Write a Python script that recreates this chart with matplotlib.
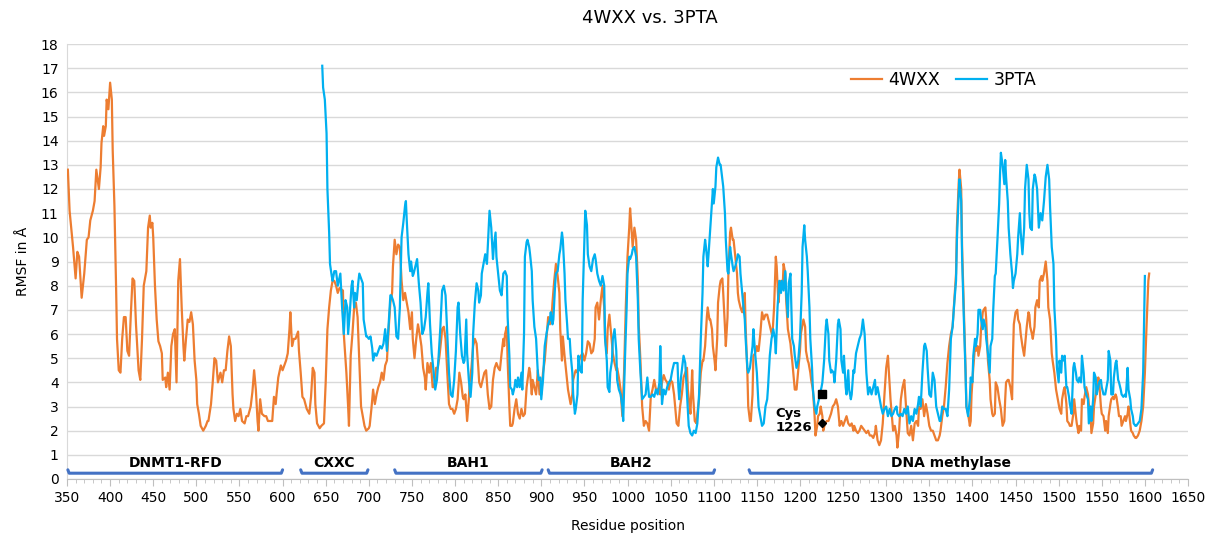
import matplotlib
matplotlib.use("Agg")
import matplotlib.pyplot as plt

plt.rcParams['font.family'] = ['DejaVu Sans']

# ---------------- data ----------------
res_4wxx = [351,353,357,360,362,364,367,370,373,375,377,380,382,384,387,389,390,392,393,395,396,398,400,402,403,405,407,408,410,412,414,416,418,420,422,424,426,428,430,433,435,437,439,442,444,446,447,449,450,452,454,456,458,460,461,464,465,467,469,471,473,475,477,479,481,483,485,486,488,490,492,494,496,498,500,501,503,505,508,511,513,
514,517,519,521,523,525,528,530,532,534,536,538,540,542,543,545,547,549,551,553,556,558,560,563,565,567,569,571,572,574,576,579,581,583,585,588,590,592,593,595,598,600,602,604,606,608,609,611,613,615,618,619,621,623,625,628,631,633,635,637,638,640,643,645,648,650,652,654,656,658,660,662,664,666,
670,671,674,676,677,679,681,683,685,687,689,691,693,695,697,700,701,703,705,707,709,711,713,715,717,719,721,723,725,727,728,730,732,734,736,738,740,742,744,746,748,750,751,753,755,757,759,761,763,765,766,768,770,772,774,776,778,780,782,784,785,787,789,791,793,795,797,799,801,803,805,807,809,810,812,814,816,817,819,821,823,825,827,828,830,832,834,836,838,
840,842,844,846,848,850,852,854,856,857,858,860,861,863,864,866,867,869,871,873,875,877,879,881,883,886,887,889,890,892,894,896,898,900,902,904,906,908,910,912,913,915,917,919,921,922,924,925,927,929,931,933,934,936,937,939,940,942,944,946,948,950,952,954,956,958,960,962,963,965,967,969,971,973,974,976,977,979,981,983,985,987,988,
990,992,994,996,998,1000,1002,1003,1004,1006,1008,1010,1012,1013,1015,1017,1019,1021,1023,1025,1027,1029,1031,1033,1035,1037,1038,1040,1042,1044,1046,1048,1050,1052,1054,1056,1057,1059,1061,1063,1065,1067,1069,1070,1072,1073,1075,1076,1078,1080,1081,1083,1085,1087,1088,1090,1092,1093,1095,1096,1098,1099,1101,1102,1104,1105,1107,1108,1110,1111,1113,1114,1116,1117,1119,1120,1122,1123,1125,1127,1128,1129,1131,1133,1134,1136,1137,1139,1140,1142,1143,1145,1146,1148,1150,1151,
1152,1154,1156,1158,1160,1162,1164,1166,1168,1170,1172,1173,1175,1176,1178,1180,1181,1183,1184,1186,1188,1189,1190,1191,1193,1194,1196,1198,1200,1201,1203,1204,1206,1207,1209,1210,1212,1213,1215,1217,1218,1220,1221,1223,1224,1226,1227,1229,1231,1233,1235,1236,1238,1240,1242,1244,1246,1248,1250,1252,1254,1256,1258,1260,1262,1263,1265,1267,1269,1271,1273,1275,1277,1279,1281,1283,1285,1287,1288,1290,1292,1294,1296,1298,1300,1302,1303,1305,1307,1308,1310,1312,1313,
1315,1317,1319,1321,1323,1325,1327,1329,1331,1333,1335,1337,1338,1340,1342,1344,1346,1348,1350,1352,1354,1356,1358,1360,1362,1363,1365,1367,1369,1371,1373,1375,1377,1379,1381,1382,1384,1385,1387,1388,1390,1392,1393,1395,1397,1398,1399,1401,1403,1404,1406,1407,1409,1410,1412,1413,1415,1416,1418,1420,1421,1423,1424,1426,1427,1429,1431,1432,1433,1435,1437,1438,1439,1441,1442,1444,1446,1447,1448,1450,1452,1453,1455,1456,1458,1460,1461,1463,1465,1466,1467,1469,1470,1472,1473,1475,
1477,1478,1480,1481,1483,1485,1487,1488,1490,1492,1493,1495,1497,1498,1500,1501,1503,1504,1506,1507,1509,1510,1512,1513,1515,1517,1518,1520,1521,1523,1524,1526,1527,1529,1530,1532,1534,1535,1537,1538,1540,1541,1543,1544,1546,1547,1549,1550,1552,1554,1555,1557,1558,1560,1561,1563,1564,1566,1567,1569,1570,1572,1573,1575,1577,1578,1580,1581,1583,1584,1586,1587,1589,1590,1592,1594,1596,1598,1600,1602,1604,1605]

rmsf_4wxx = [12.8,11.1,9.6,8.3,9.4,9.2,7.5,8.5,9.9,10.0,10.7,11.1,11.5,12.8,12.0,12.9,13.9,14.6,14.2,14.6,15.7,15.3,16.4,15.7,13.6,11.3,7.8,5.8,4.5,4.4,5.8,6.7,6.7,5.3,5.1,6.8,8.3,8.2,6.4,4.5,4.1,5.8,8.0,8.6,10.4,10.9,10.4,10.6,10.0,8.0,6.6,5.7,5.5,5.2,4.1,4.2,3.8,4.4,3.7,5.5,6.0,6.2,4.0,8.2,9.1,7.1,5.5,4.9,5.8,6.6,6.5,6.9,6.4,4.9,4.1,3.1,2.7,2.2,2.0,2.2,2.4,
2.4,3.1,4.0,5.0,4.9,4.0,4.4,4.0,4.5,4.5,5.3,5.9,5.5,3.5,2.9,2.4,2.7,2.6,2.9,2.4,2.3,2.6,2.6,3.0,3.6,4.5,3.7,2.4,2.0,3.3,2.7,2.6,2.6,2.4,2.4,2.4,3.4,3.1,3.5,4.2,4.7,4.5,4.7,4.9,5.2,6.2,6.9,5.5,5.8,5.8,6.1,5.3,4.4,3.4,3.3,2.9,2.7,3.4,4.6,4.4,3.1,2.3,2.1,2.2,2.3,4.0,6.2,7.1,7.8,8.2,8.2,8.0,7.7,7.9,
7.8,6.0,4.4,3.0,2.2,5.1,6.0,7.1,7.3,6.7,4.9,3.0,2.6,2.2,2.0,2.1,2.2,2.9,3.7,3.1,3.5,3.8,4.0,4.4,4.1,4.7,4.9,6.2,7.3,7.7,8.8,9.9,9.3,9.7,9.6,8.2,7.4,7.7,7.3,6.9,6.2,6.9,5.8,5.0,5.8,6.4,6.0,5.5,4.6,4.2,3.7,4.8,4.4,4.8,3.8,3.8,4.6,4.6,5.1,5.8,6.2,6.3,5.8,4.4,3.1,2.9,2.9,2.7,2.9,3.3,4.4,4.0,3.4,3.3,3.5,2.4,3.3,4.0,4.6,5.5,5.8,5.6,4.6,4.0,3.8,4.1,4.4,4.5,3.5,
2.9,3.0,4.1,4.6,4.8,4.6,4.5,5.2,5.8,5.5,6.0,6.3,4.9,3.0,2.2,2.2,2.3,2.9,3.3,2.7,2.5,2.9,2.6,2.7,3.8,4.6,4.4,3.5,4.1,3.8,3.5,4.5,3.5,3.5,4.4,4.9,5.8,6.7,6.4,6.7,7.3,8.2,8.9,8.4,7.7,6.2,4.9,5.9,5.1,4.4,3.7,3.3,3.1,3.5,4.1,4.4,4.5,4.4,4.9,5.1,5.2,4.9,5.2,5.7,5.6,5.2,5.3,5.8,7.1,7.3,6.6,7.4,8.0,7.1,5.8,5.2,6.2,6.8,6.0,5.2,4.8,4.5,4.6,
4.2,3.7,2.6,4.4,7.1,9.2,10.4,11.2,10.7,9.6,10.4,9.9,8.2,6.4,4.9,3.0,2.2,2.4,2.3,2.0,3.4,3.7,4.1,3.7,3.7,3.8,3.5,4.0,4.3,4.1,4.0,3.7,4.1,4.0,3.5,2.7,2.3,2.2,3.0,3.5,4.2,4.4,4.6,3.7,3.0,2.7,4.5,3.5,2.4,2.3,2.7,3.3,4.4,4.9,4.9,5.5,6.7,7.1,6.6,6.6,6.2,5.5,4.9,4.5,5.8,7.3,8.0,8.2,8.3,7.7,6.3,5.5,6.7,8.5,10.2,10.4,9.9,9.9,9.2,8.5,7.7,7.4,7.1,6.9,7.1,7.7,6.3,4.4,3.0,2.4,2.4,3.5,5.1,5.2,5.5,5.3,
5.3,6.0,6.9,6.6,6.8,6.8,6.5,6.2,5.9,7.1,9.2,8.8,7.3,7.7,8.2,8.0,8.9,8.5,7.4,6.2,5.8,5.6,5.2,4.9,4.1,3.7,3.7,4.5,5.3,6.0,6.4,6.6,6.3,5.3,4.9,4.8,4.4,4.1,3.7,2.6,1.8,2.2,2.6,2.7,3.0,2.6,2.0,2.3,2.4,2.4,2.6,2.7,3.0,3.1,3.3,3.0,2.2,2.4,2.2,2.4,2.6,2.3,2.2,2.3,2.0,2.2,2.0,1.9,2.0,2.2,2.1,2.0,1.9,2.0,1.8,1.8,1.7,1.9,2.2,1.6,1.4,1.6,2.3,3.5,4.6,5.1,4.5,3.3,2.4,2.0,2.2,1.8,1.3,
2.0,3.3,3.8,4.1,3.0,1.9,1.8,2.2,1.6,2.3,2.4,2.2,3.0,2.9,3.3,2.6,3.1,2.7,2.2,2.0,2.0,1.8,1.6,1.6,1.8,2.0,2.6,3.0,3.8,4.8,5.5,6.0,6.3,7.4,8.5,10.4,12.2,12.8,12.0,9.6,7.1,4.6,3.0,2.7,2.2,2.4,3.5,4.6,5.5,5.3,5.5,5.1,5.5,6.2,6.9,7.0,7.1,6.6,4.9,4.1,3.3,2.7,2.6,2.7,4.0,3.8,3.3,3.1,2.9,2.2,2.4,3.3,4.0,4.1,4.1,3.8,3.3,5.1,6.4,6.9,7.0,6.6,6.4,6.0,5.5,5.1,5.5,6.3,6.9,6.8,6.3,6.0,5.8,6.3,7.1,7.4,
7.1,8.2,8.4,8.2,8.5,9.0,8.2,7.1,6.6,5.2,4.9,4.4,3.7,3.5,3.1,2.9,2.7,3.3,3.7,3.8,3.1,2.4,2.3,2.2,2.2,2.7,3.3,2.6,2.3,1.9,2.2,2.0,3.3,3.1,3.4,3.8,3.5,3.1,2.6,1.9,2.3,3.0,3.5,3.8,4.2,4.0,3.0,2.7,2.6,2.0,2.4,1.9,2.6,3.1,3.3,3.4,3.3,3.5,3.4,2.9,2.6,2.6,2.2,2.4,2.6,2.4,2.7,3.0,2.3,2.0,1.9,1.8,1.7,1.7,1.8,2.0,2.4,3.0,4.4,6.4,8.2,8.5]

res_3pta = [646,647,649,651,652,654,655,657,658,660,662,664,
667,669,671,673,675,676,678,680,681,683,684,686,688,689,690,693,694,697,698,700,702,704,705,707,709,711,713,715,717,719,721,723,725,726,728,730,732,734,736,738,740,742,743,744,746,748,749,751,752,754,756,758,760,762,764,766,768,769,771,773,775,777,779,781,783,785,787,789,791,793,795,797,799,801,803,804,806,808,810,811,813,814,816,818,820,821,823,825,827,828,830,831,833,835,837,
839,840,842,844,845,847,848,850,852,854,856,858,860,861,863,864,866,867,869,870,872,873,875,877,878,880,881,883,884,886,887,889,890,892,894,896,897,899,900,902,904,906,908,910,911,913,914,916,917,919,921,922,924,925,927,928,930,931,933,934,936,937,939,940,942,943,945,947,948,950,951,953,954,956,958,960,962,963,965,967,969,971,973,974,976,977,979,980,982,983,985,987,988,
990,992,994,995,997,999,1000,1002,1003,1005,1006,1008,1010,1012,1013,1015,1017,1019,1021,1023,1025,1027,1029,1031,1033,1035,1037,1038,1040,1042,1044,1046,1048,1050,1052,1054,1056,1058,1059,1060,1062,1063,1065,1067,1069,1071,1073,1075,1077,1079,1081,1083,1085,1087,1088,1090,1091,1093,1094,1096,1098,1099,1100,1102,1103,1105,1107,1108,1110,1111,1113,1114,1116,1117,1119,1120,1122,1123,1125,1127,1128,1130,1131,1133,1134,1136,1137,1139,1140,1142,1143,1145,1146,1148,1150,
1152,1154,1156,1158,1160,1162,1163,1165,1167,1169,1171,1172,1174,1176,1178,1179,1181,1183,1184,1186,1187,1189,1190,1191,1193,1194,1196,1198,1200,1202,1203,1205,1206,1208,1209,1211,1212,1214,1215,1217,1219,1220,1222,1223,1225,1226,1228,1230,1231,1233,1234,1236,1237,1239,1240,1242,1244,1245,1247,1248,1250,1251,1253,1254,1256,1257,1259,1260,1262,1263,1265,1267,1269,1271,1273,1275,1277,1279,1281,1283,1285,1287,1288,1290,1292,1294,1296,1298,1300,1302,1304,1306,1308,1310,1312,1313,
1315,1317,1319,1321,1323,1325,1327,1329,1331,1333,1335,1337,1338,1340,1342,1344,1345,1347,1348,1350,1352,1354,1356,1358,1360,1362,1363,1365,1367,1369,1371,1373,1375,1377,1379,1381,1382,1384,1385,1387,1388,1390,1392,1393,1395,1397,1398,1400,1401,1403,1404,1406,1407,1409,1410,1412,1413,1415,1416,1418,1420,1421,1423,1424,1426,1427,1429,1431,1432,1433,1435,1437,1438,1439,1441,1442,1444,1446,1447,1448,1450,1452,1453,1455,1456,1458,1460,1461,1463,1465,1466,1467,1469,1470,1472,1473,1475,
1477,1479,1481,1483,1485,1487,1489,1490,1492,1494,1495,1497,1498,1500,1501,1503,1504,1506,1507,1509,1510,1512,1513,1515,1517,1518,1520,1521,1523,1524,1526,1527,1529,1530,1532,1534,1535,1537,1538,1540,1541,1543,1544,1546,1547,1549,1550,1552,1554,1555,1557,1558,1560,1561,1563,1564,1566,1567,1569,1570,1572,1573,1575,1577,1578,1580,1581,1583,1584,1586,1587,1589,1590,1592,1594,1596,1598,1599,1600]

rmsf_3pta = [17.1,16.2,15.7,14.3,12.0,10.2,8.9,8.4,8.2,8.6,8.6,8.0,
8.5,7.1,6.0,7.4,7.1,6.0,6.9,8.0,8.2,7.1,7.7,7.4,8.2,8.5,8.4,8.1,6.6,5.9,5.9,5.8,5.9,5.4,4.9,5.2,5.1,5.3,5.5,5.4,5.6,6.2,5.3,6.4,7.6,7.6,7.4,7.1,5.9,5.8,7.1,10.0,10.6,11.3,11.5,10.7,9.3,8.6,9.0,8.4,8.5,8.8,9.1,8.1,7.3,6.0,6.2,6.7,7.7,8.1,6.4,5.2,4.5,3.7,4.1,5.1,6.3,7.8,8.0,7.6,6.0,4.4,3.5,3.4,4.1,5.3,7.1,7.3,6.0,5.1,4.8,4.9,6.6,5.2,4.1,3.4,4.4,6.0,7.3,8.1,7.8,7.3,7.6,8.5,8.9,9.3,8.9,
10.4,11.1,10.4,9.1,9.6,10.2,9.2,8.5,7.8,7.6,8.5,8.6,8.4,6.7,5.1,3.8,3.7,3.5,3.8,4.1,3.8,4.2,3.8,4.4,3.7,6.0,9.2,9.8,9.9,9.6,9.3,8.6,7.4,6.3,5.8,4.4,4.1,4.2,3.3,4.1,5.5,6.0,6.4,6.6,6.9,6.4,6.6,8.0,8.5,8.6,9.3,9.5,10.2,9.9,8.5,7.4,6.4,5.8,5.8,5.2,4.4,3.5,2.7,2.9,3.5,5.1,4.5,4.4,7.4,9.9,11.1,10.5,9.3,8.8,8.6,9.1,9.3,9.1,8.5,8.2,8.0,8.4,8.0,5.8,4.9,3.8,3.6,4.4,4.9,5.8,6.2,5.3,4.1,
3.7,3.5,3.0,2.4,4.9,7.1,8.5,9.2,9.1,9.3,9.5,9.6,9.2,7.4,5.8,4.4,3.3,3.4,3.5,4.2,3.4,3.4,3.5,3.4,3.7,3.5,4.0,5.5,3.1,3.7,3.5,3.8,4.0,4.1,4.5,4.8,4.8,4.8,3.8,3.3,4.2,4.5,5.1,4.8,3.5,2.2,1.9,1.8,2.0,1.9,2.3,3.5,5.8,7.7,9.2,9.9,9.6,8.8,9.3,10.4,11.5,12.0,11.4,12.1,12.9,13.3,13.0,13.0,12.4,12.1,11.0,9.9,8.6,8.5,9.6,9.3,8.8,8.6,8.8,9.1,9.3,9.2,8.5,7.7,7.3,6.6,5.8,4.6,4.4,4.6,4.9,5.5,6.2,5.2,4.4,
3.0,2.6,2.2,2.3,3.0,3.3,3.8,5.1,5.8,6.2,5.8,5.2,7.1,8.2,7.7,8.2,7.8,8.6,7.7,6.7,8.1,8.5,7.1,5.8,5.5,5.1,4.6,4.9,5.8,7.7,9.6,10.5,9.9,9.2,8.6,7.1,5.8,4.6,3.7,3.0,2.7,3.0,3.3,3.5,3.8,4.0,4.9,6.3,6.6,6.0,4.9,4.4,4.5,4.4,4.0,4.9,6.4,6.6,6.2,4.9,4.4,5.1,3.8,3.5,4.5,3.7,3.3,3.5,4.5,4.4,5.2,5.5,5.8,6.0,6.6,6.0,4.4,3.5,3.8,3.5,3.8,4.1,3.5,3.8,3.4,3.0,2.7,2.9,3.0,2.6,2.9,2.6,2.7,2.9,3.0,2.7,
2.6,2.7,2.6,2.9,2.7,3.0,2.3,2.6,2.4,2.9,2.7,3.1,3.4,3.0,4.4,5.5,5.6,5.3,4.6,3.5,3.4,4.4,4.1,3.0,2.7,2.4,2.4,3.0,2.9,2.9,2.6,3.7,5.8,6.3,7.3,8.2,9.9,11.7,12.4,11.5,9.2,6.7,4.4,3.0,2.6,3.3,4.2,4.0,5.1,5.8,5.5,6.0,7.0,7.0,6.6,6.2,6.6,6.3,5.8,5.2,4.4,5.5,5.8,6.9,8.4,8.5,9.9,11.4,12.6,13.5,13.0,12.2,13.2,12.5,11.5,10.4,9.3,8.5,7.9,8.2,8.5,9.3,10.0,11.0,10.2,9.3,10.4,12.0,13.0,12.4,11.0,10.4,10.3,12.0,12.6,12.5,12.0,
10.4,11.0,10.7,11.5,12.5,13.0,12.4,11.3,9.6,8.9,7.1,5.8,4.6,4.0,4.9,4.4,5.1,4.9,5.1,3.8,3.8,3.4,3.1,2.7,4.6,4.8,4.4,4.1,4.0,4.2,4.0,5.1,4.4,3.8,3.5,3.3,2.3,3.0,2.4,3.3,4.4,4.2,3.5,3.8,4.0,4.1,3.8,3.5,3.5,3.7,4.1,5.3,4.9,3.5,3.5,4.2,4.8,4.9,4.1,4.0,3.7,3.5,3.4,3.5,3.4,4.6,3.7,3.3,2.9,2.6,2.3,2.2,2.2,2.3,2.4,2.9,4.4,6.4,8.4]

domain_names = ["DNMT1-RFD", "CXXC", "BAH1", "BAH2", "DNA methylase"]
domain_start = [351, 621, 730, 908, 1141]
domain_end = [600, 699, 901, 1101, 1609]

cys_residue = 1226
cys_rmsf_3pta = 3.5
cys_rmsf_4wxx = 2.33

x_ticks = list(range(350, 1651, 50))
y_ticks = list(range(0, 19))

ORANGE = "#ED7D31"
BLUE = "#00B0F0"
DOMAIN_BLUE = "#4472C4"

# ---------------- figure ----------------
fig = plt.figure(figsize=(12.13, 5.33), dpi=100)
ax = fig.add_axes([67/1213, 1-479/533, (1188-67)/1213, (479-44)/533])

ax.plot(res_4wxx, rmsf_4wxx, color=ORANGE, lw=1.6, label="4WXX", zorder=3)
ax.plot(res_3pta, rmsf_3pta, color=BLUE, lw=1.6, label="3PTA", zorder=4)

# Cys 1226 markers
ax.plot([cys_residue], [cys_rmsf_3pta], marker="s", color="black", ms=5.5, ls="none", zorder=6)
ax.plot([cys_residue], [cys_rmsf_4wxx], marker="D", color="black", ms=4.5, ls="none", zorder=6)
ax.text(1172, 2.42, "Cys\n1226", fontsize=9.5, fontweight="bold", ha="left", va="center",
        multialignment="left", linespacing=1.1, zorder=7)

# Domain brackets
for name, s, e in zip(domain_names, domain_start, domain_end):
    ax.plot([s, s + 1.5, e - 1.5, e], [0.38, 0.24, 0.24, 0.38], color=DOMAIN_BLUE,
            lw=2.2, solid_capstyle="round", solid_joinstyle="round", zorder=5, clip_on=False)
    ax.text((s + e) / 2, 0.66, name, ha="center", va="center", fontsize=10,
            fontweight="bold", zorder=5)

ax.set_xlim(350, 1650)
ax.set_ylim(0, 18)
ax.set_xticks(x_ticks)
ax.set_xticks(list(range(350, 1651, 10)), minor=True)
ax.set_yticks(y_ticks)
ax.tick_params(axis="x", which="major", length=5, color="#BFBFBF", labelsize=10, pad=4)
ax.tick_params(axis="x", which="minor", length=3, color="#BFBFBF")
ax.tick_params(axis="y", which="both", length=0, labelsize=10, pad=6)
ax.grid(axis="y", color="#D9D9D9", lw=1.0, zorder=0)
ax.set_axisbelow(True)
for side in ["top", "right"]:
    ax.spines[side].set_visible(False)
ax.spines["left"].set_color("#D9D9D9")
ax.spines["bottom"].set_color("#BFBFBF")

ax.set_xlabel("Residue position", fontsize=10, labelpad=10)
ax.set_ylabel("RMSF in Å", fontsize=10, labelpad=8)
fig.text(650/1213, 1-18/533, "4WXX vs. 3PTA", ha="center", va="center", fontsize=13)

leg = ax.legend(loc="center", bbox_to_anchor=(0.782, 0.917), ncol=2, frameon=False,
                fontsize=12.5, handlelength=1.8, columnspacing=0.9, handletextpad=0.35)

fig.savefig("out.png", dpi=100)
